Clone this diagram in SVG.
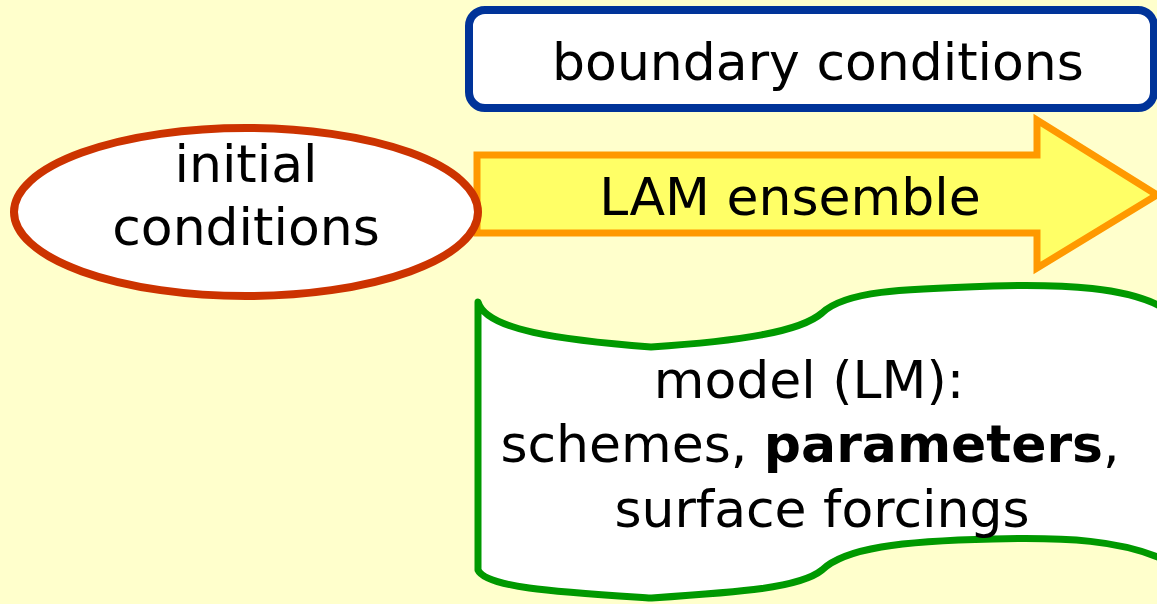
<svg xmlns="http://www.w3.org/2000/svg" width="1157" height="604" viewBox="0 0 1157 604">
  <style>
    .lbl { font-family: "DejaVu Sans", Verdana, sans-serif; font-size: 52px; fill: #000; text-anchor: middle; }
    .b { font-weight: bold; }
  </style>
  <rect x="0" y="0" width="1157" height="604" fill="#FFFFCC"/>

  <!-- boundary conditions box -->
  <g id="boundary">
    <rect x="469" y="10" width="685" height="98" rx="16" ry="16" fill="#FFFFFF" stroke="#003399" stroke-width="8"/>
    <text class="lbl" x="818" y="80">boundary conditions</text>
  </g>

  <!-- LAM ensemble block arrow -->
  <g id="ensemble">
    <path d="M477,155 L1037,155 L1037,120 L1157,195 L1037,268 L1037,233 L477,233 Z" fill="#FFFF66" stroke="#FF9900" stroke-width="7" stroke-linejoin="miter"/>
    <text class="lbl" x="790" y="215">LAM ensemble</text>
  </g>

  <!-- initial conditions ellipse -->
  <g id="initial">
    <ellipse cx="246" cy="212" rx="232" ry="84" fill="#FFFFFF" stroke="#CC3300" stroke-width="8"/>
    <text class="lbl" x="246" y="182">initial</text>
    <text class="lbl" x="246" y="245">conditions</text>
  </g>

  <!-- model wave-shaped block -->
  <g id="model">
    <path d="M478,302 C486,330 560,340 651,347 C740,341 800,332 822,313 C845,291 900,289 993,286 C1070,284 1125,288 1160,306 L1175,306 L1175,560 L1160,558 C1120,541 1070,537 993,539 C900,541 845,548 822,570 C800,588 740,592 651,598 C560,592 486,588 478,570 Z" fill="#FFFFFF" stroke="#009900" stroke-width="7" stroke-linejoin="round"/>
    <text class="lbl" x="809" y="398">model (LM):</text>
    <text class="lbl" x="810" y="462">schemes, <tspan class="b">parameters</tspan>,</text>
    <text class="lbl" x="822" y="527">surface forcings</text>
  </g>

  <g id="connectors"></g>
</svg>
